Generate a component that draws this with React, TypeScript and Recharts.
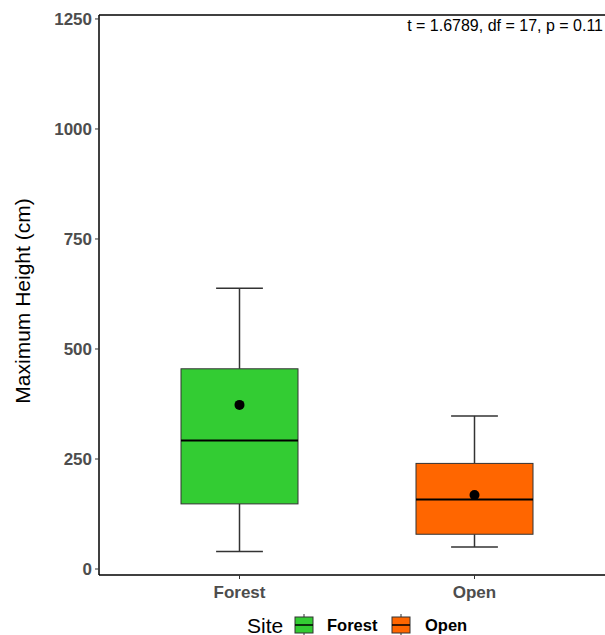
import {
  ComposedChart,
  Bar,
  Scatter,
  XAxis,
  YAxis,
  ReferenceLine,
} from 'recharts';

// values (cm)
const sites = ['Forest', 'Open'];
const whiskerLow = [40, 50];
const lowerQuartile = [148, 79];
const medians = [292, 158];
const upperQuartile = [455, 240];
const whiskerHigh = [638, 348];
const means = [373, 168];
const siteColors = ['#33CC33', '#FF6600'];
const yTicks = [0, 250, 500, 750, 1000, 1250];
const yDomain = [-13.6, 1259];
const statText = 't = 1.6789, df = 17, p = 0.11';

const data = sites.map((site, i) => ({
  site,
  range: [whiskerLow[i], whiskerHigh[i]],
  lo: whiskerLow[i],
  q1: lowerQuartile[i],
  med: medians[i],
  q3: upperQuartile[i],
  hi: whiskerHigh[i],
  mean: means[i],
  fill: siteColors[i],
}));

const FONT = '"Liberation Sans", Arial, sans-serif';

// draws one box from the bar's own pixel extent (whisker low -> whisker high)
const BoxShape = (props: any) => {
  const { x, y, width, height, payload } = props;
  const { lo, q1, med, q3, hi, fill } = payload;
  const px = height / (hi - lo);
  const yOf = (v: number) => y + (hi - v) * px;
  const cx = x + width / 2;
  const cap = width * 0.2;
  return (
    <g>
      <line x1={cx} x2={cx} y1={yOf(hi)} y2={yOf(q3)} stroke="#333" strokeWidth={1.5} />
      <line x1={cx} x2={cx} y1={yOf(q1)} y2={yOf(lo)} stroke="#333" strokeWidth={1.5} />
      <line x1={cx - cap} x2={cx + cap} y1={yOf(hi)} y2={yOf(hi)} stroke="#333" strokeWidth={1.5} />
      <line x1={cx - cap} x2={cx + cap} y1={yOf(lo)} y2={yOf(lo)} stroke="#333" strokeWidth={1.5} />
      <rect
        x={x}
        y={yOf(q3)}
        width={width}
        height={yOf(q1) - yOf(q3)}
        fill={fill}
        stroke="#333"
        strokeWidth={1}
      />
      <line x1={x} x2={x + width} y1={yOf(med)} y2={yOf(med)} stroke="#000" strokeWidth={2} />
    </g>
  );
};

const MeanDot = (props: any) => (
  <circle cx={props.cx} cy={props.cy} r={5} fill="#000" />
);

const YLabel = (props: any) => {
  const { viewBox } = props;
  const cy = viewBox.y + viewBox.height / 2 + 6;
  return (
    <text
      x={22}
      y={cy}
      transform={`rotate(-90, 22, ${cy})`}
      textAnchor="middle"
      dominantBaseline="central"
      fontFamily={FONT}
      fontSize={21}
      fill="#000"
    >
      Maximum Height (cm)
    </text>
  );
};

const LegendKey = ({ x, color }: { x: number; color: string }) => (
  <g>
    <line x1={x + 9} x2={x + 9} y1={614} y2={636} stroke="#333" strokeWidth={1} />
    <rect x={x} y={617} width={18} height={16} fill={color} stroke="#333" strokeWidth={1} />
    <line x1={x} x2={x + 18} y1={625} y2={625} stroke="#000" strokeWidth={1.5} />
  </g>
);

export default function App() {
  return (
    <div
      style={{
        position: 'absolute',
        left: 0,
        top: 0,
        width: 605,
        height: 635,
        overflow: 'hidden',
        background: '#fff',
      }}
    >
      <ComposedChart
        width={616}
        height={635}
        data={data}
        margin={{ top: 15, right: 1, bottom: 30, left: 0 }}
      >
        <XAxis
          dataKey="site"
          type="category"
          padding={{ left: 23, right: 23 }}
          height={30}
          axisLine={{ stroke: '#000', strokeWidth: 1.5 }}
          tickLine={{ stroke: '#333' }}
          tickSize={4}
          tickMargin={7}
          tick={{ fill: '#4d4d4d', fontSize: 17, fontWeight: 'bold', fontFamily: FONT }}
        />
        <YAxis
          type="number"
          domain={yDomain}
          ticks={yTicks}
          allowDataOverflow
          width={99}
          axisLine={{ stroke: '#000', strokeWidth: 1.5 }}
          tickLine={{ stroke: '#333' }}
          tickSize={4}
          tickMargin={3}
          tick={{ fill: '#4d4d4d', fontSize: 17, fontWeight: 'bold', fontFamily: FONT }}
          label={<YLabel />}
        />
        <ReferenceLine y={yDomain[1]} stroke="#000" strokeWidth={1.5} />
        <Bar dataKey="range" barSize={117} shape={<BoxShape />} isAnimationActive={false} />
        <Scatter dataKey="mean" shape={<MeanDot />} isAnimationActive={false} />
      </ComposedChart>
      <svg
        width={605}
        height={635}
        style={{ position: 'absolute', left: 0, top: 0, pointerEvents: 'none' }}
      >
        <text
          x={603}
          y={25}
          textAnchor="end"
          dominantBaseline="central"
          fontFamily={FONT}
          fontSize={16}
          fill="#000"
        >
          {statText}
        </text>
        <text x={247} y={625} dominantBaseline="central" fontFamily={FONT} fontSize={21} fill="#000">
          Site
        </text>
        <LegendKey x={295} color={siteColors[0]} />
        <text
          x={327}
          y={625}
          dominantBaseline="central"
          fontFamily={FONT}
          fontSize={16.5}
          fontWeight="bold"
          fill="#000"
        >
          {sites[0]}
        </text>
        <LegendKey x={392} color={siteColors[1]} />
        <text
          x={425}
          y={625}
          dominantBaseline="central"
          fontFamily={FONT}
          fontSize={16.5}
          fontWeight="bold"
          fill="#000"
        >
          {sites[1]}
        </text>
      </svg>
    </div>
  );
}
